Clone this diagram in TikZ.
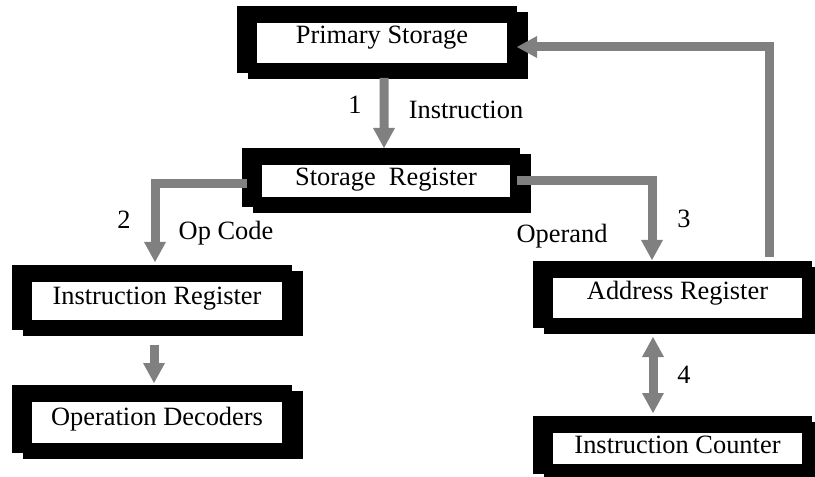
\documentclass[tikz,border=0pt]{standalone}
\usepackage{fontspec}
\setmainfont{Liberation Serif}
\usetikzlibrary{arrows.meta}
\usetikzlibrary{backgrounds}
\definecolor{arrowgray}{RGB}{128,128,128}

\begin{document}
\begin{tikzpicture}[x=1bp,y=-1bp,
    font=\fontsize{26.4bp}{30bp}\selectfont,
    >={Triangle[width=22bp,length=20bp,line width=0pt]},
    regbox/.style={fill=white, inner xsep=0pt, inner ysep=0pt, outer sep=0pt, anchor=base, minimum width=250bp},
    flow/.style={draw=arrowgray, line width=9bp}]
    \useasboundingbox (0,0) rectangle (815,477);

    % Draw the registers
    \node[regbox, text height=21bp, text depth=19bp] (prim) at (382,44) {Primary Storage};
    \node[regbox, text height=21bp, text depth=11bp, minimum width=248bp] (stor) at (386,186) {Storage\ \ Register};
    \node[regbox, text height=23bp, text depth=15bp] (ireg) at (157,305) {Instruction Register};
    \node[regbox, text height=23bp, text depth=18bp] (odec) at (157,425) {Operation Decoders};
    \node[regbox, text height=22bp, text depth=18bp, minimum width=249bp] (areg) at (677.5,300) {Address Register};
    \node[regbox, text height=20bp, text depth=11bp, minimum width=249bp] (icnt) at (677.5,453) {Instruction Counter};

    % Black frames with shadow behind the boxes
    \begin{scope}[on background layer]
    \foreach \n in {prim,stor,ireg,odec,areg,icnt} {
        \fill ([shift={(-9,-11)}]\n.north west) rectangle ([shift={(21,16)}]\n.south east);  % shadow
        \fill ([shift={(-20,-17)}]\n.north west) rectangle ([shift={(10,10)}]\n.south east);  % frame
    }
    \end{scope}

    % Draw the arrows
    % 1: instruction to storage register
    \draw[flow,->] ([xshift=2bp,yshift=-15bp]prim.south) -- ([xshift=-2bp,yshift=17bp]stor.north);
    % 2: op code to instruction register
    \draw[flow,->] ([xshift=-15bp,yshift=-3bp]stor.west) -| ([xshift=-2bp,yshift=20bp]ireg.north);
    % 3: operand to address register
    \draw[flow,->] ([xshift=7bp]stor.east) -| ([xshift=-25.5bp,yshift=18bp]areg.north);
    % back to primary storage
    \draw[flow,->] ([xshift=91.5bp,yshift=21bp]areg.north) |- ([xshift=10bp,yshift=-4bp]prim.east);
    % instruction register to decoders
    \draw[flow,->] ([xshift=-3bp,yshift=-25bp]ireg.south) -- ([xshift=-3bp,yshift=19bp]odec.north);
    % 4: address register and counter
    \draw[flow,<->] ([xshift=-24.5bp,yshift=-19bp]areg.south) -- ([xshift=-24.5bp,yshift=20bp]icnt.north);

    % Labels
    \node (n1) at (355,105) {1};
    \node (instr) at (466,110) {Instruction};
    \node (n2) at (124,220) {2};
    \node (opc) at (226,233) {Op Code};
    \node (n3) at (684,219) {3};
    \node (opd) at (562,236) {Operand};
    \node (n4) at (684,375) {4};
\end{tikzpicture}
\end{document}
